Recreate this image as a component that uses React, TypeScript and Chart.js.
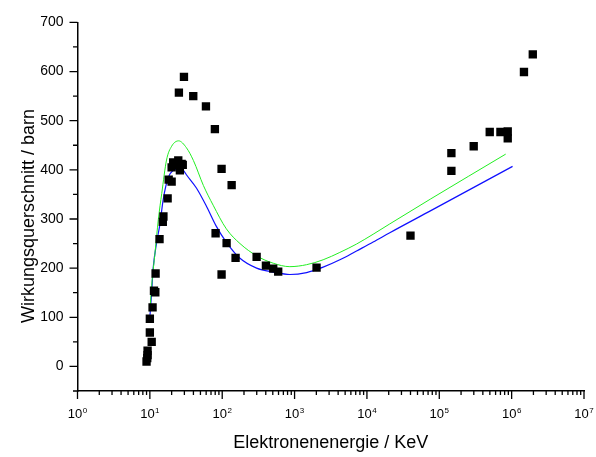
import React, { useRef, useEffect } from "react";
import { Chart, registerables } from "chart.js";

Chart.register(...registerables);

const FONT = "'Liberation Sans', Arial, sans-serif";

// Messpunkte: Energie (KeV) und Wirkungsquerschnitt (barn)
const pointEnergy = [
  9.0, 9.2, 9.3, 9.3, 10.0, 10.6, 10.0, 10.9, 11.4, 11.9, 12.0, 13.6, 15.1, 15.4,
  17.6, 18.2, 20.0, 20.0, 21.0, 23.0, 24.7, 26.0, 27.5, 28.5, 25.2, 29.6, 39.8,
  59.6, 79.2, 98, 135, 81, 115, 153, 98, 299, 402, 507, 594, 2013, 40000, 147000,
  147000, 299000, 498000, 700000, 883000, 883000, 1480000, 1960000,
];
const pointSigma = [
  10, 17, 23, 32, 69, 50, 97, 120, 154, 151, 189, 259, 294, 305, 342, 380, 376,
  405, 415, 410, 419, 399, 412, 410, 557, 589, 550, 529, 483, 402, 369, 271, 251,
  221, 187, 223, 205, 199, 193, 201, 266, 434, 398, 448, 477, 477, 478, 464, 599,
  635,
];

// Rechnung 1 (gruen)
const greenEnergy = [
  10, 10.6, 11.8, 13.1, 14.6, 17, 20, 25, 32, 40, 55, 75, 114, 176, 299, 507, 861,
  1465, 2483, 4225, 7180, 12190, 20700, 76400, 828000,
];
const greenSigma = [
  112, 165, 232, 299, 352, 420, 448, 459, 445, 419, 368, 328, 280, 250, 225, 210,
  203, 207, 217, 232, 249, 269, 290, 341, 432,
];

// Rechnung 2 (blau)
const blueEnergy = [
  10, 10.6, 11.1, 12.4, 13.8, 15.3, 18, 21, 25, 29, 32, 44, 61, 83, 115, 176, 299,
  507, 861, 1465, 2483, 4225, 7180, 12190, 20700, 76400, 1030000,
];
const blueSigma = [
  100, 152, 199, 252, 290, 340, 385, 399, 402, 399, 390, 363, 325, 285, 252, 220,
  200, 192, 187, 191, 202, 217, 235, 253, 272, 317, 407,
];

const yTickValues = [-50, 0, 50, 100, 150, 200, 250, 300, 350, 400, 450, 500, 550, 600, 650, 700];
const xDecades = [0, 1, 2, 3, 4, 5, 6, 7];

const xTitle = "Elektronenenergie / KeV";
const yTitle = "Wirkungsquerschnitt / barn";

const toXY = (xs: number[], ys: number[]) => xs.map((x, i) => ({ x, y: ys[i] }));

// Achsen-Striche, Hochzahlen und Titel
const axisDecor = {
  id: "axisDecor",
  afterDraw(chart: any) {
    const { ctx, chartArea, scales } = chart;
    const xs = scales.x;
    const ys = scales.y;
    ctx.save();
    ctx.strokeStyle = "#000";
    ctx.lineWidth = 1.3;
    ctx.beginPath();
    yTickValues.forEach((v) => {
      const py = ys.getPixelForValue(v);
      const len = v % 100 === 0 ? 8 : 4.5;
      ctx.moveTo(chartArea.left - len, py);
      ctx.lineTo(chartArea.left, py);
    });
    xDecades.forEach((e) => {
      for (let m = 1; m <= 9; m++) {
        const v = m * Math.pow(10, e);
        if (v > 1e7) break;
        const px = xs.getPixelForValue(v);
        const len = m === 1 ? 8 : 4;
        ctx.moveTo(px, chartArea.bottom);
        ctx.lineTo(px, chartArea.bottom + len);
      }
    });
    ctx.stroke();

    ctx.fillStyle = "#000";
    ctx.textBaseline = "alphabetic";
    ctx.textAlign = "left";
    xDecades.forEach((e) => {
      const px = xs.getPixelForValue(Math.pow(10, e));
      ctx.font = `13px ${FONT}`;
      const w1 = ctx.measureText("10").width;
      ctx.font = `8px ${FONT}`;
      const w2 = ctx.measureText(String(e)).width;
      const start = px - (w1 + w2 + 0.5) / 2;
      ctx.font = `13px ${FONT}`;
      ctx.fillText("10", start, 417.5);
      ctx.font = `8px ${FONT}`;
      ctx.fillText(String(e), start + w1 + 0.5, 412.5);
    });

    ctx.font = `18px ${FONT}`;
    ctx.textAlign = "center";
    ctx.fillText(xTitle, (chartArea.left + chartArea.right) / 2, 447.5);

    ctx.translate(33.5, 216);
    ctx.rotate(-Math.PI / 2);
    ctx.fillText(yTitle, 0, 0);
    ctx.restore();
  },
};

const CrossSectionChart = () => {
  const chartRef = useRef<HTMLCanvasElement>(null);
  const chartInstanceRef = useRef<any>(null);

  useEffect(() => {
    document.body.style.margin = "0";
    const ctx = chartRef.current!.getContext("2d")!;

    if (chartInstanceRef.current) {
      chartInstanceRef.current.destroy();
    }

    chartInstanceRef.current = new Chart(ctx, {
      type: "scatter",
      data: {
        datasets: [
          {
            label: "Messwerte",
            data: toXY(pointEnergy, pointSigma),
            pointStyle: "rect",
            pointRadius: 5.9,
            pointBorderWidth: 0,
            backgroundColor: "#000",
            borderColor: "#000",
            showLine: false,
          },
          {
            label: "Rechnung 1",
            data: toXY(greenEnergy, greenSigma),
            showLine: true,
            pointRadius: 0,
            borderColor: "#22ee22",
            borderWidth: 1,
            cubicInterpolationMode: "monotone",
          },
          {
            label: "Rechnung 2",
            data: toXY(blueEnergy, blueSigma),
            showLine: true,
            pointRadius: 0,
            borderColor: "#1010ff",
            borderWidth: 1.2,
            cubicInterpolationMode: "monotone",
          },
        ],
      },
      options: {
        responsive: false,
        animation: false,
        events: [],
        layout: { padding: { left: 0, right: 12, top: 16, bottom: 0 } },
        plugins: { legend: { display: false }, tooltip: { enabled: false } },
        scales: {
          x: {
            type: "logarithmic",
            min: 1,
            max: 1e7,
            grid: { display: false },
            border: { display: true, color: "#000", width: 1.5 },
            ticks: { display: false },
            afterFit: (scale: any) => {
              scale.height = 66;
            },
          },
          y: {
            type: "linear",
            min: -50,
            max: 700,
            grid: { display: false, drawTicks: false },
            border: { display: true, color: "#000", width: 1.5 },
            ticks: {
              stepSize: 50,
              autoSkip: false,
              padding: 14,
              color: "#000",
              font: { family: FONT, size: 14 },
              callback: (v: any) => (v % 100 === 0 && v >= 0 ? String(v) : ""),
            },
            afterFit: (scale: any) => {
              scale.width = 77.5;
            },
          },
        },
      },
      plugins: [axisDecor],
    });

    return () => {
      if (chartInstanceRef.current) {
        chartInstanceRef.current.destroy();
      }
    };
  }, []);

  return <canvas ref={chartRef} width={596} height={457} style={{ display: "block" }} />;
};

export default function App() {
  return <CrossSectionChart />;
}
